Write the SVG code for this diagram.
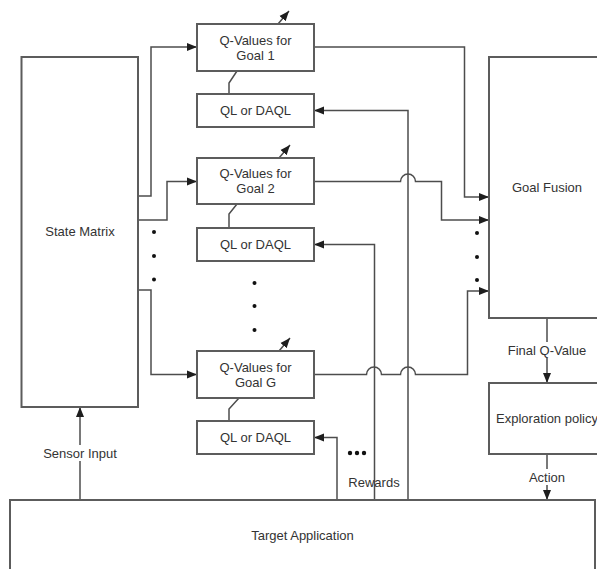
<svg xmlns="http://www.w3.org/2000/svg" width="597" height="569" viewBox="0 0 597 569">
  <defs>
    <marker id="arrow" markerUnits="userSpaceOnUse" markerWidth="10" markerHeight="10" viewBox="0 0 10 10" refX="10" refY="5" orient="auto">
      <path d="M0,1 L10,5 L0,9 Z" fill="#1e1e1e"/>
    </marker>
    <style>
      .box{fill:#fff;stroke:#5c5c5c;stroke-width:2}
      .ln{fill:none;stroke:#4d4d4d;stroke-width:1.5}
      .arr{marker-end:url(#arrow)}
      text{font-family:"Liberation Sans",Arial,sans-serif;font-size:13px;fill:#333;text-anchor:middle;dominant-baseline:central}
      .dot{fill:#111}
      .bg{fill:#fff}
    </style>
  </defs>
  <rect width="597" height="569" fill="#fff"/>

  <!-- connectors -->
  <g id="connectors">
    <!-- state matrix to goal Q-value tables -->
    <path class="ln arr" d="M138,196 H151 V47 H197"/>
    <path class="ln arr" d="M138,220 H167 V181.5 H197"/>
    <path class="ln arr" d="M138,290 H151 V374.5 H197"/>
    <!-- Q-value tables to goal fusion (with line jumps) -->
    <path class="ln arr" d="M314,47 H464.5 V197 H489"/>
    <path class="ln arr" d="M314,181.5 H400.5 A7.5,7.5 0 0 1 415.5,181.5 H441.5 V220 H489"/>
    <path class="ln arr" d="M314,374.5 H366.5 A7.5,7.5 0 0 1 381.5,374.5 H400.5 A7.5,7.5 0 0 1 415.5,374.5 H467.5 V291 H489"/>
    <!-- rewards feeding the learners -->
    <path class="ln arr" d="M408,500 V110.5 H314"/>
    <path class="ln arr" d="M374.5,500 V244.5 H314"/>
    <path class="ln arr" d="M337,500 V437.5 H314"/>
    <!-- learner to Q-value table links -->
    <path class="ln" d="M237,71 L229,83 V94"/>
    <path class="ln" d="M237,204 L229,214 V228"/>
    <path class="ln" d="M239,398 L229,409 V421"/>
    <!-- small outgoing arrows on Q-value tables -->
    <path class="ln arr" d="M278,24 L289,11"/>
    <path class="ln arr" d="M279,158 L290,145"/>
    <path class="ln arr" d="M279,351 L290,338"/>
    <!-- fusion, policy, application, sensors -->
    <path class="ln arr" d="M547,318 V383"/>
    <path class="ln arr" d="M547,454 V500"/>
    <path class="ln arr" d="M80,500 V407"/>
  </g>

  <!-- connector labels -->
  <g id="labels">
    <rect class="bg" x="40" y="445" width="80" height="16"/>
    <text x="80" y="453">Sensor Input</text>
    <rect class="bg" x="506" y="342" width="82" height="16"/>
    <text x="547" y="350">Final Q-Value</text>
    <rect class="bg" x="526" y="469" width="42" height="16"/>
    <text x="547" y="477">Action</text>
    <text x="374" y="482">Rewards</text>
  </g>

  <!-- ellipsis dots -->
  <g id="dots">
    <circle class="dot" cx="154" cy="232" r="2"/>
    <circle class="dot" cx="154" cy="256" r="2"/>
    <circle class="dot" cx="154" cy="279.5" r="2"/>
    <circle class="dot" cx="254.5" cy="283" r="2"/>
    <circle class="dot" cx="254.5" cy="306" r="2"/>
    <circle class="dot" cx="254.5" cy="330" r="2"/>
    <circle class="dot" cx="477" cy="233" r="2"/>
    <circle class="dot" cx="477" cy="257" r="2"/>
    <circle class="dot" cx="477" cy="280" r="2"/>
    <circle class="dot" cx="350" cy="453" r="2.2"/>
    <circle class="dot" cx="357" cy="453" r="2.2"/>
    <circle class="dot" cx="364" cy="453" r="2.2"/>
  </g>

  <g id="state-matrix">
    <rect class="box" x="21.5" y="57" width="116.5" height="350"/>
    <text x="80" y="231">State Matrix</text>
  </g>

  <g id="q-goal-1">
    <rect class="box" x="197" y="24" width="117" height="47"/>
    <text x="255.5" y="40">Q-Values for</text>
    <text x="255.5" y="55">Goal 1</text>
  </g>
  <g id="ql-1">
    <rect class="box" x="197" y="94" width="117" height="33"/>
    <text x="255.5" y="110.5">QL or DAQL</text>
  </g>

  <g id="q-goal-2">
    <rect class="box" x="197" y="158" width="117" height="46"/>
    <text x="255.5" y="173.5">Q-Values for</text>
    <text x="255.5" y="188.5">Goal 2</text>
  </g>
  <g id="ql-2">
    <rect class="box" x="197" y="228" width="117" height="33"/>
    <text x="255.5" y="244.5">QL or DAQL</text>
  </g>

  <g id="q-goal-g">
    <rect class="box" x="197" y="351" width="117" height="47"/>
    <text x="255.5" y="367">Q-Values for</text>
    <text x="255.5" y="382">Goal G</text>
  </g>
  <g id="ql-g">
    <rect class="box" x="197" y="421" width="117" height="33"/>
    <text x="255.5" y="437.5">QL or DAQL</text>
  </g>

  <g id="goal-fusion">
    <rect class="box" x="489" y="57" width="118" height="261"/>
    <text x="547" y="187">Goal Fusion</text>
  </g>

  <g id="exploration-policy">
    <rect class="box" x="489" y="383" width="118" height="71"/>
    <text x="547" y="418">Exploration policy</text>
  </g>

  <g id="target-application">
    <rect class="box" x="10" y="500" width="585" height="72"/>
    <text x="302.5" y="535">Target Application</text>
  </g>
</svg>
